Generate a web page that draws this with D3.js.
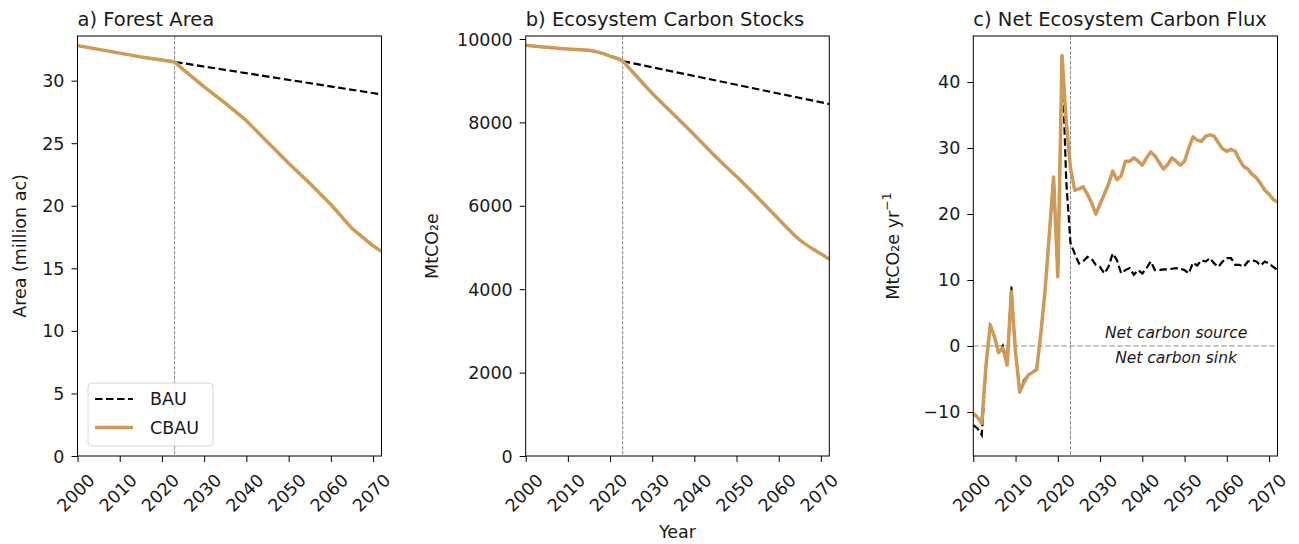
<!DOCTYPE html>
<html>
<head>
<meta charset="utf-8">
<script src="https://cdn.jsdelivr.net/npm/d3@7"></script>
<style>
  body { margin: 0; background: #fff; }
  text { font-family: "DejaVu Sans", sans-serif; fill: #1a1a1a; }
</style>
</head>
<body>
<div id="chart"></div>
<script>
// ---- data ----
const xTickYears = [2000, 2010, 2020, 2030, 2040, 2050, 2060, 2070]
const policyYear = 2023

// a) forest area, million ac
const areaYears = [2000, 2005, 2010, 2015, 2020, 2023, 2025, 2030, 2035, 2040, 2045, 2050, 2055, 2060, 2065, 2070, 2072]
const areaCBAU = [32.8, 32.5, 32.2, 31.9, 31.65, 31.5, 30.9, 29.5, 28.2, 26.8, 25.1, 23.4, 21.8, 20.1, 18.2, 16.8, 16.35]
const areaBAUYears = [2000, 2005, 2010, 2015, 2020, 2023, 2072]
const areaBAU = [32.8, 32.5, 32.2, 31.9, 31.65, 31.5, 28.9]
const areaTicks = [0, 5, 10, 15, 20, 25, 30]

// b) ecosystem carbon stocks, MtCO2e
const stockYears = [2000, 2005, 2010, 2015, 2018, 2020, 2023, 2025, 2030, 2035, 2040, 2045, 2050, 2055, 2060, 2065, 2070, 2072]
const stockCBAU = [9850, 9800, 9760, 9730, 9660, 9590, 9470, 9250, 8700, 8200, 7700, 7180, 6700, 6200, 5680, 5180, 4850, 4720]
const stockBAUYears = [2000, 2005, 2010, 2015, 2018, 2020, 2023, 2072]
const stockBAU = [9850, 9800, 9760, 9730, 9660, 9590, 9470, 8440]
const stockTicks = [0, 2000, 4000, 6000, 8000, 10000]

// c) net ecosystem carbon flux, MtCO2e/yr, annual 2000-2072
const fluxYears = d3.range(2000, 2073)
const fluxCBAU = [
  -10.2, -10.8, -11.7, -3, 3.2, 1.4, -1, -0.3, -2.9, 8.2,
  -1, -7, -5.5, -4.4, -4, -3.6, 2, 8.5, 17, 25.6,
  10.5, 44, 34, 27, 23.6, 23.8, 24.1, 23.0, 21.7, 20.0,
  21.5, 23.0, 24.5, 26.5, 25.2, 25.8, 28.0, 28.0, 28.5, 28.0,
  27.4, 28.5, 29.4, 28.8, 27.8, 26.8, 27.5, 28.5, 28.0, 27.4,
  28.0, 30.0, 31.7, 31.2, 31.0, 31.8, 32.0, 31.8, 30.8, 29.9,
  29.5, 29.8, 29.5, 28.2, 27.2, 26.8, 26.0, 25.5, 24.6, 23.6,
  23.0, 22.2, 21.8
]
const fluxBAU = [
  -12, -12.5, -13.5, -3, 3, 1.5, -1.2, 0, -2.5, 9,
  -1, -6.5, -5.2, -4.4, -4, -3.4, 2, 8.5, 17, 25.6,
  10.5, 44, 25, 15.6, 14.0, 12.5, 12.8, 13.5, 13.2, 12.3,
  12.0, 11.0, 12.0, 14.0, 13.0, 11.0, 11.5, 11.8, 10.8, 11.5,
  11.0, 11.8, 12.8, 11.5, 11.5, 11.6, 11.6, 11.7, 11.8, 11.7,
  11.5, 11.0, 12.6, 12.2, 13.0, 12.8, 13.3, 12.5, 12.0, 12.8,
  13.3, 13.3, 12.3, 12.3, 12.0, 12.8, 13.0, 12.8, 12.2, 12.8,
  12.5, 12.0, 11.5
]
const fluxTicks = [-10, 0, 10, 20, 30, 40]

const seriesNames = ["BAU", "CBAU"]
const cbauColor = "#cf9a56"

// ---- layout ----
const dimensions = { width: 1299, height: 544, top: 36, bottom: 456 }

const svg = d3.select("#chart")
  .append("svg")
    .attr("width", dimensions.width)
    .attr("height", dimensions.height)

function drawPanel(p) {
  const innerH = dimensions.bottom - dimensions.top
  const innerW = p.right - p.left

  const xScale = d3.scaleLinear().domain([2000, 2072]).range([0, innerW])
  const yScale = d3.scaleLinear().domain(p.yDomain).range([innerH, 0])

  const bounds = svg.append("g")
    .attr("transform", `translate(${p.left},${dimensions.top})`)

  // axes
  const xAxis = bounds.append("g")
    .attr("transform", `translate(0,${innerH})`)
    .call(d3.axisBottom(xScale).tickValues(xTickYears).tickFormat(d3.format("d")).tickSize(6).tickSizeOuter(0))
  xAxis.select(".domain").remove()
  xAxis.selectAll("line").attr("stroke", "#000")
  xAxis.selectAll("text")
    .attr("font-size", 17.5)
    .attr("fill", "#1a1a1a")
    .attr("text-anchor", "middle")
    .attr("dominant-baseline", "central")
    .attr("x", 0).attr("y", 0).attr("dy", null)
    .attr("transform", "translate(-2,37) rotate(-45)")

  const yAxis = bounds.append("g")
    .call(d3.axisLeft(yScale).tickValues(p.yTicks).tickSize(6).tickPadding(7).tickSizeOuter(0).tickFormat(d3.format("d")))
  yAxis.select(".domain").remove()
  yAxis.selectAll("line").attr("stroke", "#000")
  yAxis.selectAll("text")
    .attr("font-size", 17.5)
    .attr("fill", "#1a1a1a")
    .attr("dy", null)
    .attr("dominant-baseline", "central")
    .text(d => d < 0 ? "\u2212" + Math.abs(d) : d)

  // policy year marker
  bounds.append("line")
    .attr("x1", xScale(policyYear)).attr("x2", xScale(policyYear))
    .attr("y1", 0).attr("y2", innerH)
    .attr("stroke", "#888").attr("stroke-width", 1)
    .attr("stroke-dasharray", "3.5,1.5")

  if (p.zeroLine) {
    bounds.append("line")
      .attr("x1", 0).attr("x2", innerW)
      .attr("y1", yScale(0)).attr("y2", yScale(0))
      .attr("stroke", "#888").attr("stroke-width", 1)
      .attr("stroke-dasharray", "5.5,2.5")
    bounds.append("text")
      .attr("x", xScale(2048)).attr("y", yScale(0) - 8)
      .attr("text-anchor", "middle")
      .attr("font-size", 15.5).attr("font-style", "italic")
      .text("Net carbon source")
    bounds.append("text")
      .attr("x", xScale(2048)).attr("y", yScale(0) + 17)
      .attr("text-anchor", "middle")
      .attr("font-size", 15.5).attr("font-style", "italic")
      .text("Net carbon sink")
  }

  const bauLine = d3.line()
    .x(d => xScale(d[0]))
    .y(d => yScale(d[1]))

  const cbauLine = d3.line()
    .x(d => xScale(d[0]))
    .y(d => yScale(d[1]))
    .curve(p.curve || d3.curveLinear)

  bounds.append("path")
    .datum(d3.zip(p.bauYears, p.bau))
    .attr("d", bauLine)
    .attr("fill", "none")
    .attr("stroke", "#000")
    .attr("stroke-width", 2.2)
    .attr("stroke-dasharray", "7.5,3.5")

  bounds.append("path")
    .datum(d3.zip(p.cbauYears, p.cbau))
    .attr("d", cbauLine)
    .attr("fill", "none")
    .attr("stroke", cbauColor)
    .attr("stroke-width", 3.5)
    .attr("stroke-linejoin", "round")

  // frame
  bounds.append("rect")
    .attr("width", innerW).attr("height", innerH)
    .attr("fill", "none").attr("stroke", "#000").attr("stroke-width", 1)

  // title
  bounds.append("text")
    .attr("x", 0).attr("y", -10)
    .attr("font-size", 19.5)
    .text(p.title)

  // y label
  const yl = svg.append("text")
    .attr("transform", `translate(${p.ylabelX},${dimensions.top + innerH / 2}) rotate(-90)`)
    .attr("text-anchor", "middle")
    .attr("dominant-baseline", "central")
    .attr("font-size", 17.5)
  yl.append("tspan").text(p.ylabel)
  if (p.ylabelSup) {
    yl.append("tspan").attr("dy", -7).attr("font-size", 12.5).text(p.ylabelSup)
  }

  return { bounds, xScale, yScale, innerW, innerH }
}

const a = drawPanel({
  left: 77.5, right: 381.5, yDomain: [0, 33.57], yTicks: areaTicks,
  cbauYears: areaYears, cbau: areaCBAU, bauYears: areaBAUYears, bau: areaBAU,
  title: "a) Forest Area", ylabel: "Area (million ac)", ylabelX: 20
})

drawPanel({
  left: 525.7, right: 829.3, yDomain: [0, 10072], yTicks: stockTicks,
  cbauYears: stockYears, cbau: stockCBAU, bauYears: stockBAUYears, bau: stockBAU,
  title: "b) Ecosystem Carbon Stocks", ylabel: "MtCO\u2082e", ylabelX: 432,
  curve: d3.curveMonotoneX
})

drawPanel({
  left: 973.3, right: 1277.5, yDomain: [-16.67, 46.97], yTicks: fluxTicks,
  cbauYears: fluxYears, cbau: fluxCBAU, bauYears: fluxYears, bau: fluxBAU,
  title: "c) Net Ecosystem Carbon Flux", ylabel: "MtCO\u2082e yr", ylabelSup: "\u22121", ylabelX: 893,
  zeroLine: true
})

// x label under middle panel
svg.append("text")
  .attr("x", (525.7 + 829.3) / 2).attr("y", 538)
  .attr("text-anchor", "middle")
  .attr("font-size", 17.5)
  .text("Year")

// legend in panel a
const legend = a.bounds.append("g")
  .attr("transform", `translate(${88 - 77.5},${383 - dimensions.top})`)
legend.append("rect")
  .attr("width", 125).attr("height", 63).attr("rx", 4)
  .attr("fill", "#fff").attr("fill-opacity", 0.8)
  .attr("stroke", "#d6d6d6").attr("stroke-width", 1)
const legendItems = legend.selectAll(".item")
  .data(seriesNames)
  .enter().append("g")
  .attr("transform", (d, i) => `translate(0,${16 + i * 28.5})`)
legendItems.append("line")
  .attr("x1", 7).attr("x2", 45).attr("y1", 0).attr("y2", 0)
  .attr("stroke", d => d === "BAU" ? "#000" : cbauColor)
  .attr("stroke-width", d => d === "BAU" ? 2.2 : 3.5)
  .attr("stroke-dasharray", d => d === "BAU" ? "7.5,3.5" : null)
legendItems.append("text")
  .attr("x", 62).attr("y", 0)
  .attr("dominant-baseline", "central")
  .attr("font-size", 17.5)
  .text(d => d)
</script>
</body>
</html>
